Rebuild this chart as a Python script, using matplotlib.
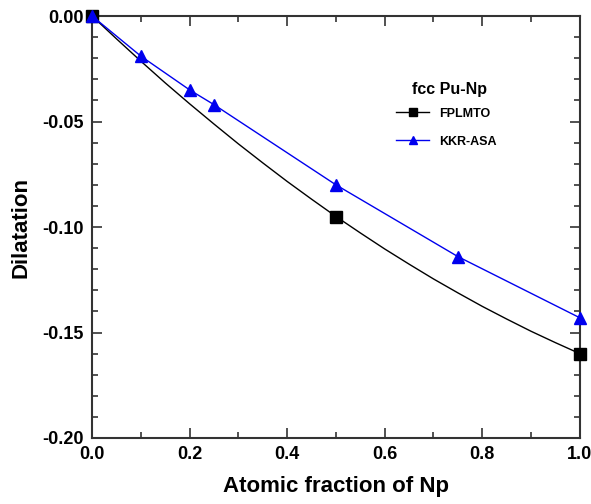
import matplotlib
matplotlib.use("Agg")
import matplotlib.pyplot as plt
from matplotlib.ticker import MultipleLocator, FormatStrFormatter
from matplotlib.lines import Line2D

plt.rcParams['font.family'] = ['Liberation Sans', 'DejaVu Sans']

# FPLMTO calculated points (markers)
fp_x = [0.0, 0.5, 1.0]
fp_y = [0.0, -0.095, -0.160]
# FPLMTO smooth curve
fp_curve_x = [0.0, 0.05, 0.1, 0.15, 0.2, 0.25, 0.3, 0.35, 0.4, 0.45, 0.5,
              0.55, 0.6, 0.65, 0.7, 0.75, 0.8, 0.85, 0.9, 0.95, 1.0]
fp_curve_y = [0.0, -0.0108, -0.0214, -0.0317, -0.0416, -0.0512, -0.0606, -0.0696, -0.0784,
              -0.0868, -0.0950, -0.1028, -0.1104, -0.1176, -0.1246, -0.1312, -0.1376,
              -0.1436, -0.1494, -0.1548, -0.1600]

# KKR-ASA points
kkr_x = [0.0, 0.1, 0.2, 0.25, 0.5, 0.75, 1.0]
kkr_y = [0.0, -0.019, -0.035, -0.042, -0.080, -0.114, -0.143]

fig = plt.figure(figsize=(5.91, 5.04), dpi=100)
ax = fig.add_axes([0.156, 0.131, 0.825, 0.837])

ax.plot(fp_curve_x, fp_curve_y, color='black', lw=1.0, clip_on=False, zorder=3)
ax.plot(fp_x, fp_y, 's', color='black', ms=9, clip_on=False, zorder=4)
ax.plot(kkr_x, kkr_y, '-^', color='#0000ee', lw=1.0, ms=8, clip_on=False, zorder=5)

ax.set_xlim(0, 1.0)
ax.set_ylim(-0.20, 0.0)
ax.xaxis.set_major_locator(MultipleLocator(0.2))
ax.xaxis.set_minor_locator(MultipleLocator(0.1))
ax.yaxis.set_major_locator(MultipleLocator(0.05))
ax.yaxis.set_minor_locator(MultipleLocator(0.01))
ax.tick_params(which='both', direction='in', top=True, right=True, width=1.2, color='#333333')
ax.tick_params(which='major', length=7, labelsize=13, pad=6)
ax.tick_params(which='minor', length=4)
ax.xaxis.set_major_formatter(FormatStrFormatter('%.1f'))
ax.yaxis.set_major_formatter(FormatStrFormatter('%.2f'))
for lbl in ax.get_xticklabels() + ax.get_yticklabels():
    lbl.set_fontweight('bold')
for sp in ax.spines.values():
    sp.set_linewidth(1.5)
    sp.set_color('#333333')

ax.set_xlabel('Atomic fraction of Np', fontsize=16, fontweight='bold', labelpad=9)
ax.set_ylabel('Dilatation', fontsize=16, fontweight='bold', labelpad=8)

ax.text(0.732, 0.826, 'fcc Pu-Np', transform=ax.transAxes, ha='center', va='center',
        fontsize=11.5, fontweight='bold')
handles = [Line2D([], [], color='black', marker='s', ms=6, lw=1.0),
           Line2D([], [], color='#0000ee', marker='^', ms=6, lw=1.0)]
leg = ax.legend(handles, ['FPLMTO', 'KKR-ASA'], loc='upper left',
                bbox_to_anchor=(0.601, 0.810), frameon=False, handlelength=2.6,
                prop={'weight': 'bold', 'size': 9}, labelspacing=1.3)

fig.savefig('out.png', dpi=100)
